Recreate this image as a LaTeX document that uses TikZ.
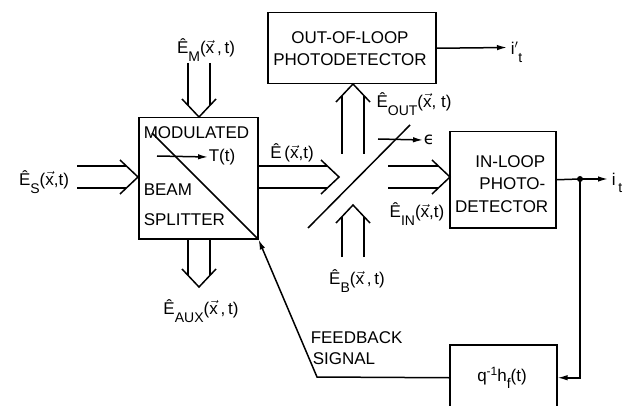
\documentclass[tikz,border=0pt]{standalone}
\usepackage{fix-cm}
\usepackage{amsmath}
\usepackage{fontspec}
\setmainfont{Liberation Sans}
\newfontfamily\dejavu{DejaVu Sans}
\usetikzlibrary{arrows.meta}
\newcommand{\lowsub}[1]{\raisebox{-7.5pt}{\fontsize{14}{14}\selectfont #1}}
\newcommand{\Eh}[1]{Ê\lowsub{#1}}
\newcommand{\xv}{$\vec{\text{x}}$}
\begin{document}
\begin{tikzpicture}[x=1pt,y=-1pt, line width=1.5pt,
  every node/.style={font=\fontsize{17}{20}\selectfont, inner sep=0pt},
  blk/.style={draw, rectangle, inner sep=0pt, anchor=north west},
  tip/.style={-{Latex[length=10pt,width=5.5pt]}},
  pics/hollow/.style={code={
    \draw (-18,-17) -- (0,0) -- (-18,17);
    \draw (-#1,-11) -- (-11.6,-11);
    \draw (-#1,11) -- (-11.6,11);}}]
\clip (0,0) rectangle (634,406);
% boxes
\node[blk, minimum width=119pt, minimum height=121pt] (mbs) at (138,117) {};
\node[blk, minimum width=168pt, minimum height=71pt] (ool) at (267,12) {};
\node[blk, minimum width=106pt, minimum height=96pt] (il) at (449,131) {};
\node[blk, minimum width=107pt, minimum height=66pt] (q) at (449,344) {};
% box texts
\node[anchor=west] (tmod) at (143,133) {MODULATED};
\node[anchor=west] (tbeam) at (143,190) {BEAM};
\node[anchor=west] (tspl) at (143,220) {SPLITTER};
\node (tool1) at (350,38) {OUT-OF-LOOP};
\node (tool2) at (350,60) {PHOTODETECTOR};
\node[anchor=east] (til1) at (546,162) {IN-LOOP};
\node[anchor=east] (til2) at (546,184) {PHOTO-};
\node[anchor=east] (til3) at (549,207) {DETECTOR};
\node (tq) at (502,378) {q\raisebox{6pt}{\fontsize{12}{12}\selectfont -1}h\lowsub{f}(t)};
% modulated splitter internals
\coordinate (mstart) at (152,133);
\draw (mstart) -- (mbs.south east);
\coordinate (ta) at (157,156);
\node (tt) at (222,157) {T(t)};
\draw[tip] (ta) -- (tt.west);
% second splitter mirror
\coordinate (m1) at (308,228);
\coordinate (m2) at (410,125);
\draw (m1) -- (m2);
\coordinate (ea) at (378,139);
\node (eps) at (429,140) {\dejavu ϵ};
\draw[tip] (ea) -- (eps.west);
% hollow beam arrows
\pic at (138,177) {hollow=61};
\pic[rotate=-90] at (199,117) {hollow=54};
\pic at (339,177) {hollow=82};
\pic[rotate=90] at (353,84) {hollow=70};
\pic[rotate=90] at (353,205) {hollow=52};
\pic[rotate=-90] at (199,287) {hollow=49};
\pic at (450,177) {hollow=62};
% beam labels
\node (les) at (44,182) {\Eh{S}(\xv,t)};
\node (lem) at (206,50) {\Eh{M}(\xv\,,\,t)};
\node (le) at (292,155) {\Eh{}\,(\xv,t)};
\node (leout) at (414,104) {\Eh{OUT}(\xv, t)};
\node (lein) at (417,214) {\Eh{IN}(\xv,t)};
\node (leb) at (357,281) {\Eh{B}(\xv\,,\,t)};
\node (leaux) at (201,311) {\Eh{AUX}(\xv\,,\,t)};
% detector outputs
\coordinate (ipend) at (507,47.5);
\node[anchor=west] (lip) at (510,52) {i$'$\lowsub{t}};
\draw[tip] (ool.east) -- (ipend);
\coordinate (dot) at (580,179);
\coordinate (itend) at (608,179);
\node[anchor=west] (lit) at (611,183) {i\,\lowsub{t}};
\draw (il.east) -- (dot);
\draw[tip] (dot) -- (itend);
\fill (dot) circle (3pt);
% feedback loop
\draw[tip] (dot) |- (q.east);
\coordinate (bend) at (317,377);
\draw[tip] (q.west) -- (bend) -- (mbs.south east);
\node[anchor=west] (tfb1) at (310,338) {FEEDBACK};
\node[anchor=west] (tfb2) at (312,359) {SIGNAL};
\end{tikzpicture}
\end{document}
